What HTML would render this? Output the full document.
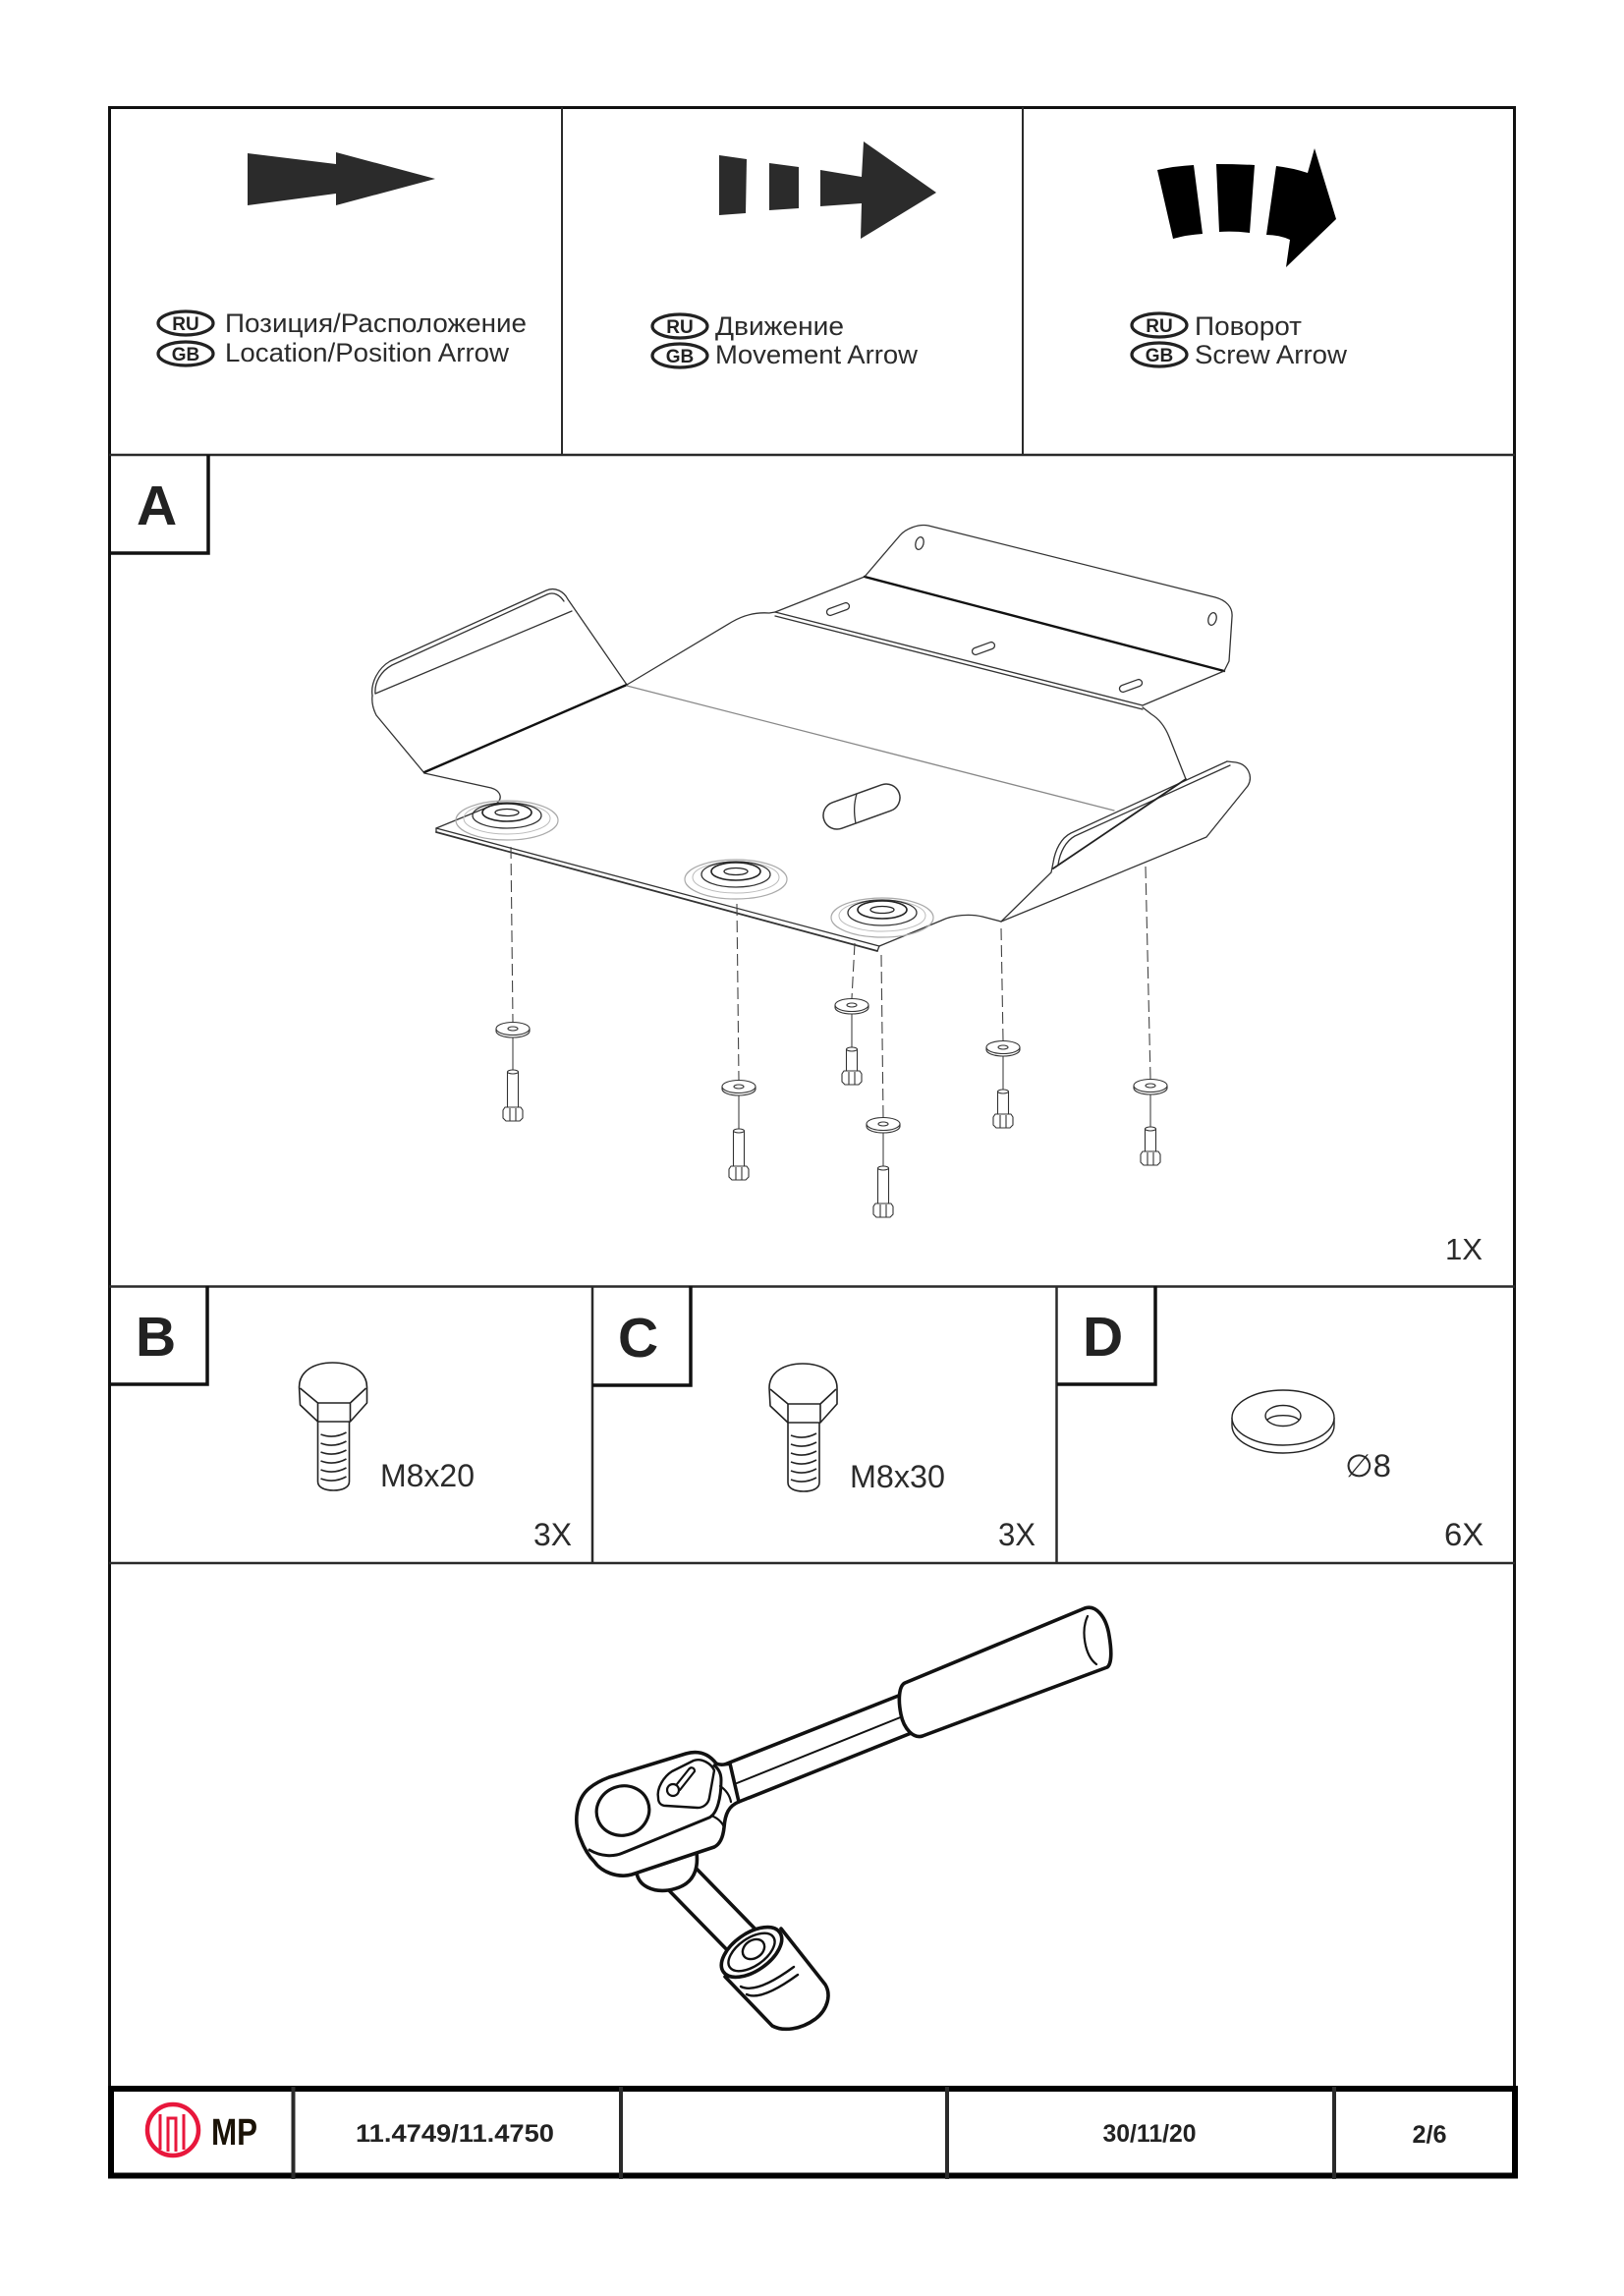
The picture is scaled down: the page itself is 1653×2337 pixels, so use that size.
<!DOCTYPE html>
<html><head><meta charset="utf-8"><style>
html,body{margin:0;padding:0;background:#fff;}
svg{display:block;}
text{font-family:"Liberation Sans","DejaVu Sans",sans-serif;}
</style></head><body>
<svg width="1653" height="2337" viewBox="0 0 1653 2337" xmlns="http://www.w3.org/2000/svg">
<rect width="1653" height="2337" fill="#fff"/>

<!-- FRAME -->
<rect x="111.5" y="109.5" width="1430" height="2105" fill="none" stroke="#111" stroke-width="3"/>
<line x1="111" y1="463" x2="1542" y2="463" stroke="#2a2a2a" stroke-width="2.5"/>
<line x1="572" y1="109" x2="572" y2="463" stroke="#2a2a2a" stroke-width="2"/>
<line x1="1041" y1="109" x2="1041" y2="463" stroke="#2a2a2a" stroke-width="2"/>
<line x1="111" y1="1309.5" x2="1542" y2="1309.5" stroke="#2a2a2a" stroke-width="2.5"/>
<line x1="603" y1="1309" x2="603" y2="1591" stroke="#2a2a2a" stroke-width="2.5"/>
<line x1="1075.5" y1="1309" x2="1075.5" y2="1591" stroke="#2a2a2a" stroke-width="2.5"/>
<line x1="111" y1="1591" x2="1542" y2="1591" stroke="#2a2a2a" stroke-width="2.5"/>

<!-- label boxes -->
<path d="M111,563 H212 V463" fill="none" stroke="#111" stroke-width="3.5"/>
<path d="M111,1409 H211 V1309" fill="none" stroke="#111" stroke-width="3.5"/>
<path d="M603,1410 H703 V1309" fill="none" stroke="#111" stroke-width="3.5"/>
<path d="M1076,1409 H1176 V1309" fill="none" stroke="#111" stroke-width="3.5"/>
<g font-weight="bold" font-size="57" fill="#222">
<text x="139" y="534">A</text>
<text x="138" y="1380">B</text>
<text x="629" y="1381">C</text>
<text x="1102" y="1380">D</text>
</g>

<!-- HEADER ARROWS -->
<polygon points="252,156 342,167 342,155 443,182 342,209 342,197 252,209" fill="#2b2b2b"/>
<g fill="#2b2b2b">
<polygon points="732,158 760,162 759,217 732,219"/>
<polygon points="783,166 813,170 813,212 783,214"/>
<polygon points="835,173 877,180 879,144 953,196 876,243 877,207 835,210"/>
</g>
<g fill="#000" transform="translate(2,0)">
<path d="M1176,173 Q1194,169 1213,168 L1222,238 Q1206,239 1192,243 Z"/>
<path d="M1236,167 Q1256,167 1275,168 L1270,237 Q1254,235 1239,236 Z"/>
<path d="M1297,169 Q1314,171 1329,176 L1336,151 L1358,223 L1307,272 L1311,244 Q1300,239 1287,239 Z"/>
</g>

<!-- HEADER TEXT -->
<g fill="none" stroke="#222" stroke-width="3.2">
<ellipse cx="189" cy="329" rx="28" ry="12"/>
<ellipse cx="189" cy="360" rx="28" ry="12"/>
<ellipse cx="692" cy="332" rx="28" ry="12"/>
<ellipse cx="692" cy="362" rx="28" ry="12"/>
<ellipse cx="1180" cy="331" rx="28" ry="12"/>
<ellipse cx="1180" cy="361" rx="28" ry="12"/>
</g>
<g font-weight="bold" font-size="19" fill="#222" text-anchor="middle">
<text x="189" y="336">RU</text>
<text x="189" y="367">GB</text>
<text x="692" y="339">RU</text>
<text x="692" y="369">GB</text>
<text x="1180" y="338">RU</text>
<text x="1180" y="368">GB</text>
</g>
<g font-size="27" fill="#2b2b2b">
<text x="229" y="338" textLength="307" lengthAdjust="spacingAndGlyphs">Позиция/Расположение</text>
<text x="229" y="368" textLength="289" lengthAdjust="spacingAndGlyphs">Location/Position Arrow</text>
<text x="728" y="341" textLength="131" lengthAdjust="spacingAndGlyphs">Движение</text>
<text x="728" y="370" textLength="206" lengthAdjust="spacingAndGlyphs">Movement Arrow</text>
<text x="1216" y="341" textLength="109" lengthAdjust="spacingAndGlyphs">Поворот</text>
<text x="1216" y="370" textLength="155" lengthAdjust="spacingAndGlyphs">Screw Arrow</text>
</g>

<!-- SECTION A : PLATE -->
<g fill="none" stroke="#333" stroke-width="1.3" stroke-linejoin="round" stroke-linecap="round">
<!-- left wing -->
<path d="M379,708 C377,695 385,680 397,673 L556,601 C565,597 574,602 578,610 L638,697"/>
<path d="M382,706 C381,694 388,683 399,677 L557,605 C564,602 570,606 574,612"/>
<path d="M382,706 L582,622"/>
<path d="M379,708 C378,716 380,722 383,728 L432,787"/>
<path d="M432,786 L638,697" stroke-width="2.4" stroke="#111"/>
<path d="M432,787 L500,802 C510,805 512,813 505,818 L444,843"/>
<!-- front edge -->
<path d="M444,843 L895,963"/>
<path d="M444,847 L893,968" stroke-width="1.8"/>
<path d="M444,843 V847 M893,968 L895,963"/>
<path d="M895,963 L958,937 C970,931 988,930 1000,933 L1019,938"/>
<!-- right wing -->
<path d="M1019,938 L1228,852 L1270,800 C1276,790 1270,778 1258,776 L1249,775"/>
<path d="M1249,775 L1090,848 C1080,853 1074,865 1072,878 L1070,888 L1019,938"/>
<path d="M1252,779 L1094,851 C1085,856 1079,867 1077,880"/>
<path d="M1072,884 L1207,793" stroke-width="1.8" stroke="#222"/>
<path d="M1207,793 L1190,750 C1186,740 1180,732 1172,727 L1163,720"/>
<!-- rear step & flange -->
<path d="M789,623 L1163,718"/>
<path d="M789,627 L1163,722"/>
<path d="M638,697 L745,633 C757,626 770,623 783,624 L789,623"/>
<path d="M789,623 L880,587"/>
<path d="M880,587 L1246,683" stroke-width="2.4" stroke="#111"/>
<path d="M880,587 L916,545 C922,538 935,533 945,535 L1237,608 C1248,611 1255,618 1254,628 L1251,673 L1246,683"/>
<path d="M1246,683 L1163,718"/>
<path d="M638,698 L1134,825" stroke="#888"/>
<!-- slots & holes -->
<rect x="-12" y="-3.5" width="24" height="7" rx="3.5" transform="translate(853,620) rotate(-20)"/>
<rect x="-12" y="-3.5" width="24" height="7" rx="3.5" transform="translate(1001,660) rotate(-20)"/>
<rect x="-12" y="-3.5" width="24" height="7" rx="3.5" transform="translate(1151,698) rotate(-20)"/>
<ellipse cx="936" cy="553" rx="4" ry="6.5" transform="rotate(15 936 553)"/>
<ellipse cx="1234" cy="630" rx="4" ry="6.5" transform="rotate(15 1234 630)"/>
<!-- oval hole -->
<path d="M856.7,843.2 L906.7,825.2 A14,14 0 0 0 897.3,798.8 L847.3,816.8 A14,14 0 0 0 856.7,843.2 Z" stroke-width="1.5"/>
<path d="M872,808 C869,818 869,828 871,838"/>
</g>
<!-- bosses -->
<g fill="none" stroke-linejoin="round">
<g transform="translate(516,835)">
<ellipse rx="52" ry="20" stroke="#aaa" stroke-width="1.2"/>
<ellipse rx="44" ry="16" cy="-2" stroke="#bbb" stroke-width="1"/>
<ellipse rx="35" ry="13" cy="-5" stroke="#333" stroke-width="1.3"/>
<ellipse rx="25" ry="9" cy="-8" stroke="#222" stroke-width="1.6"/>
<ellipse rx="12" ry="3.5" cy="-8" stroke="#222" stroke-width="1.3"/>
</g>
<g transform="translate(749,895)">
<ellipse rx="52" ry="20" stroke="#aaa" stroke-width="1.2"/>
<ellipse rx="44" ry="16" cy="-2" stroke="#bbb" stroke-width="1"/>
<ellipse rx="35" ry="13" cy="-5" stroke="#333" stroke-width="1.3"/>
<ellipse rx="25" ry="9" cy="-8" stroke="#222" stroke-width="1.6"/>
<ellipse rx="12" ry="3.5" cy="-8" stroke="#222" stroke-width="1.3"/>
</g>
<g transform="translate(898,934)">
<ellipse rx="52" ry="20" stroke="#aaa" stroke-width="1.2"/>
<ellipse rx="44" ry="16" cy="-2" stroke="#bbb" stroke-width="1"/>
<ellipse rx="35" ry="13" cy="-5" stroke="#333" stroke-width="1.3"/>
<ellipse rx="25" ry="9" cy="-8" stroke="#222" stroke-width="1.6"/>
<ellipse rx="12" ry="3.5" cy="-8" stroke="#222" stroke-width="1.3"/>
</g>
</g>

<!-- dashed axes -->
<g stroke="#444" stroke-width="1.1" fill="none">
<g stroke-dasharray="12 5">
<path d="M520,862 L522,1040"/>
<path d="M750,920 L752,1099"/>
<path d="M870,960 L867,1016"/>
<path d="M897,972 L899,1137"/>
<path d="M1019,945 L1021,1059"/>
<path d="M1166,882 L1171,1098"/>
</g>
<path d="M522,1054 V1090 M752,1113 V1150 M867,1030 V1067 M899,1151 V1188 M1021,1073 V1110 M1171,1112 V1148"/>
</g>

<!-- washers -->
<g fill="#fff" stroke="#333" stroke-width="1.1">
<g transform="translate(522,1047)"><path d="M-17,0 V2.5 A17,6.5 0 0 0 17,2.5 V0"/><ellipse rx="17" ry="6.5"/><ellipse rx="5" ry="2"/></g>
<g transform="translate(752,1106)"><path d="M-17,0 V2.5 A17,6.5 0 0 0 17,2.5 V0"/><ellipse rx="17" ry="6.5"/><ellipse rx="5" ry="2"/></g>
<g transform="translate(867,1023)"><path d="M-17,0 V2.5 A17,6.5 0 0 0 17,2.5 V0"/><ellipse rx="17" ry="6.5"/><ellipse rx="5" ry="2"/></g>
<g transform="translate(899,1144)"><path d="M-17,0 V2.5 A17,6.5 0 0 0 17,2.5 V0"/><ellipse rx="17" ry="6.5"/><ellipse rx="5" ry="2"/></g>
<g transform="translate(1021,1066)"><path d="M-17,0 V2.5 A17,6.5 0 0 0 17,2.5 V0"/><ellipse rx="17" ry="6.5"/><ellipse rx="5" ry="2"/></g>
<g transform="translate(1171,1105)"><path d="M-17,0 V2.5 A17,6.5 0 0 0 17,2.5 V0"/><ellipse rx="17" ry="6.5"/><ellipse rx="5" ry="2"/></g>
</g>
<!-- small bolts (head down) -->
<g fill="#fff" stroke="#333" stroke-width="1.1" stroke-linejoin="round">
<g transform="translate(522,1090)"><path d="M-5.5,1 V40 H5.5 V1"/><ellipse cy="1" rx="5.5" ry="2"/><path d="M-10,40 L-8,37 H8 L10,40 V48 L7,51 H-7 L-10,48 Z"/><path d="M-3,38 V51 M3,38 V51"/></g>
<g transform="translate(752,1150)"><path d="M-5.5,1 V40 H5.5 V1"/><ellipse cy="1" rx="5.5" ry="2"/><path d="M-10,40 L-8,37 H8 L10,40 V48 L7,51 H-7 L-10,48 Z"/><path d="M-3,38 V51 M3,38 V51"/></g>
<g transform="translate(867,1067)"><path d="M-5.5,1 V26 H5.5 V1"/><ellipse cy="1" rx="5.5" ry="2"/><path d="M-10,26 L-8,23 H8 L10,26 V34 L7,37 H-7 L-10,34 Z"/><path d="M-3,24 V37 M3,24 V37"/></g>
<g transform="translate(899,1188)"><path d="M-5.5,1 V40 H5.5 V1"/><ellipse cy="1" rx="5.5" ry="2"/><path d="M-10,40 L-8,37 H8 L10,40 V48 L7,51 H-7 L-10,48 Z"/><path d="M-3,38 V51 M3,38 V51"/></g>
<g transform="translate(1021,1110)"><path d="M-5.5,1 V27 H5.5 V1"/><ellipse cy="1" rx="5.5" ry="2"/><path d="M-10,27 L-8,24 H8 L10,27 V35 L7,38 H-7 L-10,35 Z"/><path d="M-3,25 V38 M3,25 V38"/></g>
<g transform="translate(1171,1148)"><path d="M-5.5,1 V27 H5.5 V1"/><ellipse cy="1" rx="5.5" ry="2"/><path d="M-10,27 L-8,24 H8 L10,27 V35 L7,38 H-7 L-10,35 Z"/><path d="M-3,25 V38 M3,25 V38"/></g>
</g>
<text x="1471" y="1282" font-size="31" fill="#2b2b2b" textLength="38" lengthAdjust="spacingAndGlyphs">1X</text>

<!-- B & C bolts -->
<g fill="none" stroke="#222" stroke-width="1.6" stroke-linejoin="round">
<g transform="translate(338.5,0)">
<path d="M-34,1412 C-34,1395 -18,1387 0,1387 C18,1387 35,1395 35,1412 L35,1428 L18,1447 L-15,1447 L-33,1430 Z"/>
<path d="M-33,1413 L-15,1428 L18,1428 L34,1413 M-15,1428 V1447 M18,1428 V1447"/>
<path d="M-15,1447 V1508 C-15,1514 -8,1517 1,1517 C10,1517 17,1514 17,1508 V1447"/>
<path d="M-12,1460 Q1,1465 14,1458 M-12,1469 Q1,1474 14,1467 M-12,1478 Q1,1483 14,1476 M-12,1487 Q1,1492 14,1485 M-12,1496 Q1,1501 14,1494 M-12,1505 Q1,1510 14,1503"/>
</g>
<g transform="translate(817,1)">
<path d="M-34,1412 C-34,1395 -18,1387 0,1387 C18,1387 35,1395 35,1412 L35,1428 L18,1447 L-15,1447 L-33,1430 Z"/>
<path d="M-33,1413 L-15,1428 L18,1428 L34,1413 M-15,1428 V1447 M18,1428 V1447"/>
<path d="M-15,1447 V1508 C-15,1514 -8,1517 1,1517 C10,1517 17,1514 17,1508 V1447"/>
<path d="M-12,1460 Q1,1465 14,1458 M-12,1469 Q1,1474 14,1467 M-12,1478 Q1,1483 14,1476 M-12,1487 Q1,1492 14,1485 M-12,1496 Q1,1501 14,1494 M-12,1505 Q1,1510 14,1503"/>
</g>
</g>
<g font-size="32" fill="#2b2b2b">
<text x="387" y="1513" textLength="96" lengthAdjust="spacingAndGlyphs">M8x20</text>
<text x="865" y="1514" textLength="97" lengthAdjust="spacingAndGlyphs">M8x30</text>
<text x="543" y="1573" textLength="39" lengthAdjust="spacingAndGlyphs">3X</text>
<text x="1016" y="1573" textLength="38" lengthAdjust="spacingAndGlyphs">3X</text>
<text x="1470" y="1573" textLength="40" lengthAdjust="spacingAndGlyphs">6X</text>
<text x="1369" y="1503" textLength="47" lengthAdjust="spacingAndGlyphs">∅8</text>
</g>

<!-- D washer -->
<g fill="#fff" stroke="#222" stroke-width="1.4">
<path d="M1254,1443 V1451 A52,28 0 0 0 1358,1451 V1443"/>
<ellipse cx="1306" cy="1443" rx="52" ry="28"/>
<ellipse cx="1306" cy="1441" rx="18" ry="10.5"/>
<path d="M1290,1445 A18,8 0 0 1 1322,1445" fill="none"/>
</g>

<!-- WRENCH -->
<g fill="none" stroke="#111" stroke-width="3.6" stroke-linecap="round" stroke-linejoin="round">
<!-- shaft -->
<path d="M735,1797 L917,1725"/>
<path d="M752,1834 L930,1763"/>
<path d="M750,1815 L919,1747" stroke-width="2"/>
<!-- grip -->
<path d="M921,1713 L1104,1637 C1115,1633 1126,1645 1129,1665 C1132,1683 1131,1694 1127,1697 L939,1767 C930,1770 920,1760 917,1745 C914,1730 915,1716 921,1713 Z" fill="#fff"/>
<path d="M1107,1645 C1100,1660 1104,1685 1116,1694" stroke-width="2.2"/>
<!-- extension bar -->
<path d="M672,1915 L752,1997"/>
<path d="M705,1898 L777,1972"/>
<!-- socket -->
<path d="M795,1963 L840,2020 C846,2030 843,2045 830,2055 C815,2066 797,2068 786,2062 L738,2012" fill="#fff"/>
<ellipse cx="765" cy="1987" rx="35" ry="19" transform="rotate(-35 765 1987)" fill="#fff"/>
<ellipse cx="765" cy="1987" rx="27" ry="14" transform="rotate(-35 765 1987)" stroke-width="2.4"/>
<ellipse cx="767" cy="1984" rx="12" ry="9" transform="rotate(-35 767 1984)" stroke-width="2.4"/>
<path d="M754,2022 Q770,2030 808,2002 M760,2030 Q775,2037 812,2010" stroke-width="2.4"/>
<!-- socket adapter -->
<path d="M648,1906 C650,1920 665,1926 680,1924 C700,1921 712,1910 709,1885" fill="#fff"/>
<!-- head -->
<path d="M591,1872 C584,1858 585,1832 600,1820 C606,1815 612,1812 620,1809 L698,1785 C712,1781 722,1786 729,1795 C733,1797 738,1796 743,1795 L752,1834 C742,1838 738,1846 737,1860 C736,1870 733,1877 727,1880 L643,1908 C628,1912 612,1905 605,1895 C599,1889 594,1880 591,1872 Z" fill="#fff"/>
<path d="M600,1883 C612,1890 625,1890 634,1886 L722,1850 C730,1846 734,1830 734,1812 C734,1805 731,1800 727,1797" stroke-width="3"/>
<path d="M733,1818 Q742,1824 744,1834 M724,1848 Q734,1852 737,1860" stroke-width="2.2"/>
<ellipse cx="634" cy="1843" rx="27" ry="25" transform="rotate(-20 634 1843)" stroke-width="3.2"/>
<!-- switch -->
<path d="M670,1830 C668,1820 676,1808 684,1803 L706,1792 C714,1789 724,1795 727,1802 L722,1830 C721,1836 716,1840 710,1840 L678,1838 C673,1838 670,1835 670,1830 Z" stroke-width="2.4"/>
<circle cx="685" cy="1822" r="6" stroke-width="2.2"/>
<path d="M689,1816 L701,1801 C703,1798 707,1799 707,1803 L692,1822" stroke-width="2.2"/>
</g>

<!-- FOOTER -->
<rect x="113" y="2126" width="1429" height="88.5" fill="none" stroke="#000" stroke-width="6"/>
<g stroke="#2a2a2a" stroke-width="4">
<line x1="298.5" y1="2124" x2="298.5" y2="2218"/>
<line x1="632" y1="2124" x2="632" y2="2218"/>
<line x1="964" y1="2124" x2="964" y2="2218"/>
<line x1="1358" y1="2124" x2="1358" y2="2218"/>
</g>
<circle cx="176" cy="2168" r="26" fill="none" stroke="#e8173c" stroke-width="4.5"/>
<path d="M163,2152 V2188 M187,2152 V2188 M171,2190 V2156 H179 V2190" fill="none" stroke="#e8173c" stroke-width="3"/>
<text x="215" y="2183" font-size="38" font-weight="bold" fill="#1a1206" textLength="47" lengthAdjust="spacingAndGlyphs">MP</text>
<g font-size="25" font-weight="bold" fill="#222" text-anchor="middle">
<text x="463" y="2180" textLength="202" lengthAdjust="spacingAndGlyphs">11.4749/11.4750</text>
<text x="1170" y="2180" textLength="95" lengthAdjust="spacingAndGlyphs">30/11/20</text>
<text x="1455" y="2181" textLength="35" lengthAdjust="spacingAndGlyphs">2/6</text>
</g>
</svg>
</body></html>
